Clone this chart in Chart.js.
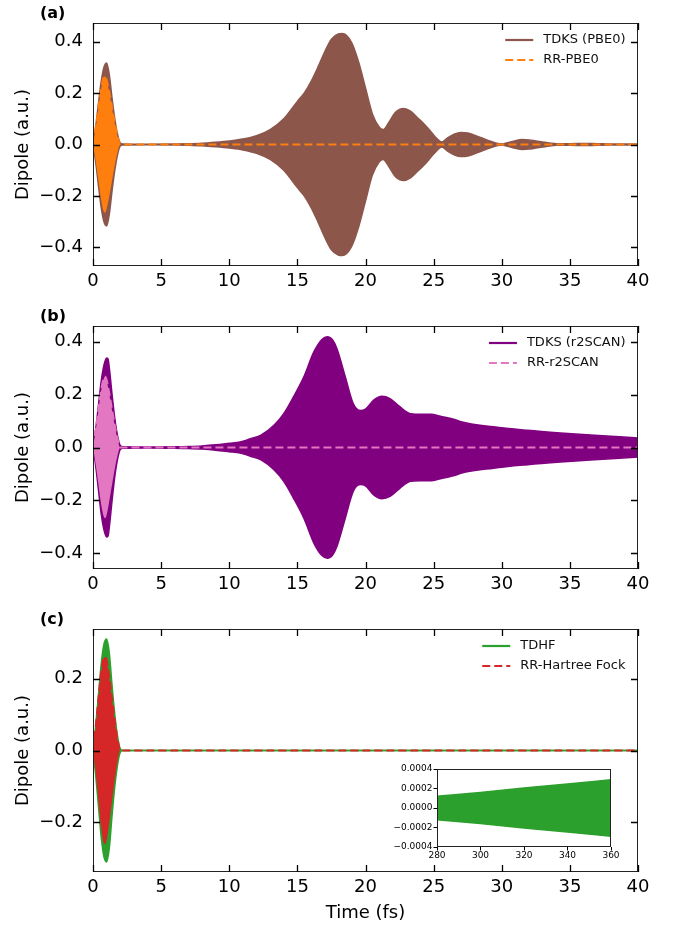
<!DOCTYPE html>
<html>
<head>
<meta charset="utf-8">
<script src="https://cdn.jsdelivr.net/npm/chart.js@4.4.0/dist/chart.umd.min.js"></script>
<style>
  html, body { margin: 0; padding: 0; background: #fff; }
  #wrap { position: relative; width: 676px; height: 926px; }
  canvas { position: absolute; left: 0; }
</style>
</head>
<body>
<div id="wrap">
  <canvas id="panelA" width="676" height="300" style="top:0"></canvas>
  <canvas id="panelB" width="676" height="300" style="top:300px"></canvas>
  <canvas id="panelC" width="676" height="326" style="top:600px"></canvas>
  <canvas id="inset" width="240" height="105" style="left:390px; top:760px"></canvas>
</div>
<script>
// tick values
const timeTicks = [0, 5, 10, 15, 20, 25, 30, 35, 40];
const dipoleTicksAB = [-0.4, -0.2, 0, 0.2, 0.4];
const dipoleTicksC = [-0.2, 0, 0.2];
const insetTimeTicks = [280, 300, 320, 340, 360];
const insetDipoleTicks = [-0.0004, -0.0002, 0, 0.0002, 0.0004];

// envelope (amplitude) of the fast dipole oscillation
// (a) TDKS (PBE0)
const pbe0Time = [0, 0.2, 0.4, 0.6, 0.8, 1.0, 1.2, 1.4, 1.6, 1.8, 2.0, 2.2, 4, 6, 7, 8, 9, 10, 11, 12, 13, 14, 15, 15.5, 16, 16.5, 17, 17.5, 18, 18.3, 18.6, 19, 19.5, 20, 20.5, 21, 21.3, 21.7, 22.2, 22.8, 23.3, 23.8, 24.3, 24.8, 25.3, 25.6, 26, 26.5, 27, 27.5, 28, 28.5, 29, 29.5, 30, 30.5, 31, 31.5, 32, 32.5, 33, 33.5, 34, 35, 36, 37, 38, 39, 40];
const pbe0Amp = [0, 0.07, 0.16, 0.245, 0.3, 0.317, 0.27, 0.18, 0.1, 0.04, 0.006, 0.002, 0.001, 0.002, 0.003, 0.005, 0.009, 0.014, 0.021, 0.034, 0.058, 0.1, 0.168, 0.2, 0.245, 0.3, 0.36, 0.41, 0.43, 0.432, 0.425, 0.395, 0.32, 0.22, 0.12, 0.068, 0.058, 0.085, 0.125, 0.14, 0.13, 0.105, 0.08, 0.05, 0.02, 0.01, 0.025, 0.04, 0.047, 0.045, 0.036, 0.026, 0.016, 0.007, 0.002, 0.008, 0.015, 0.019, 0.018, 0.014, 0.01, 0.006, 0.003, 0.003, 0.004, 0.003, 0.002, 0.002, 0.002];
// (a) RR-PBE0
const rrPbe0Time = [0, 0.2, 0.4, 0.6, 0.8, 0.9, 1.0, 1.2, 1.4, 1.6, 1.8, 2.0, 40];
const rrPbe0Amp = [0, 0.065, 0.14, 0.215, 0.262, 0.265, 0.25, 0.2, 0.14, 0.08, 0.03, 0, 0];

// (b) TDKS (r2SCAN)
const r2scanTime = [0, 0.2, 0.4, 0.6, 0.8, 1.0, 1.1, 1.2, 1.4, 1.6, 1.8, 2.0, 2.2, 4, 6, 7, 8, 9, 10, 10.8, 11.5, 12.3, 13.3, 14, 14.7, 15.5, 16.2, 16.8, 17.2, 17.6, 17.9, 18.5, 19.1, 19.6, 20, 20.6, 21.2, 21.8, 22.5, 23.3, 24, 24.8, 25.5, 26.7, 27, 29.4, 31.9, 34.3, 36.8, 40];
const r2scanAmp = [0, 0.07, 0.16, 0.25, 0.31, 0.338, 0.335, 0.3, 0.2, 0.11, 0.045, 0.008, 0.003, 0.002, 0.003, 0.004, 0.006, 0.01, 0.016, 0.021, 0.032, 0.046, 0.085, 0.128, 0.19, 0.27, 0.36, 0.408, 0.418, 0.405, 0.374, 0.27, 0.166, 0.14, 0.145, 0.179, 0.194, 0.185, 0.155, 0.128, 0.126, 0.126, 0.118, 0.103, 0.097, 0.078, 0.065, 0.055, 0.046, 0.036];
// (b) RR-r2SCAN
const rrR2scanTime = [0, 0.2, 0.4, 0.6, 0.8, 0.9, 1.0, 1.2, 1.4, 1.6, 1.8, 2.0, 40];
const rrR2scanAmp = [0, 0.065, 0.14, 0.215, 0.262, 0.267, 0.255, 0.2, 0.14, 0.08, 0.03, 0, 0];

// (c) TDHF
const tdhfTime = [0, 0.2, 0.4, 0.6, 0.8, 1.0, 1.2, 1.4, 1.6, 1.8, 2.0, 2.2, 40];
const tdhfAmp = [0, 0.07, 0.155, 0.24, 0.295, 0.31, 0.27, 0.18, 0.1, 0.04, 0.005, 0, 0];
// (c) RR-Hartree Fock
const rrHfTime = [0, 0.2, 0.4, 0.6, 0.8, 0.9, 1.0, 1.2, 1.4, 1.6, 1.8, 2.0, 40];
const rrHfAmp = [0, 0.065, 0.14, 0.215, 0.258, 0.26, 0.25, 0.2, 0.14, 0.08, 0.03, 0, 0];
// (c) inset: TDHF at long times
const insetTime = [280, 300, 320, 340, 360];
const insetAmp = [0.00012, 0.00016, 0.000205, 0.000245, 0.00029];

Chart.defaults.font.family = '"DejaVu Sans", sans-serif';
Chart.defaults.color = '#000';

const DASH = [8, 4];

// two datasets: upper edge filled down to the lower edge
function band(time, amp, color, dashed) {
  const upper = time.map((t, i) => ({ x: t, y: amp[i] }));
  const lower = time.map((t, i) => ({ x: t, y: -amp[i] }));
  const common = {
    borderColor: color, backgroundColor: color, pointRadius: 0,
    cubicInterpolationMode: 'monotone'
  };
  return [
    { ...common, data: upper, fill: '+1', borderWidth: dashed ? 2.2 : 1.5, borderDash: dashed ? DASH : [] },
    { ...common, data: lower, fill: false, borderWidth: dashed ? 0 : 1.5 }
  ];
}

// box, inward ticks on all four sides, panel letter and legend
function framePlugin(cfg) {
  return {
    id: 'frame',
    afterDraw(chart) {
      const { ctx, chartArea: a, scales: { x, y } } = chart;
      ctx.save();
      ctx.setLineDash([]);
      ctx.strokeStyle = '#222';
      ctx.lineWidth = 1;
      ctx.strokeRect(a.left + 0.5, a.top + 0.5, a.width - 1, a.height - 1);
      if (cfg.xt) {
        const L = 7;
        ctx.strokeStyle = '#000';
        ctx.lineWidth = 1.3;
        ctx.beginPath();
        cfg.xt.forEach(v => {
          const px = Math.round(x.getPixelForValue(v)) + 0.5;
          ctx.moveTo(px, a.bottom); ctx.lineTo(px, a.bottom - L);
          ctx.moveTo(px, a.top); ctx.lineTo(px, a.top + L);
        });
        cfg.yt.forEach(v => {
          const py = Math.round(y.getPixelForValue(v)) + 0.5;
          ctx.moveTo(a.left, py); ctx.lineTo(a.left + L, py);
          ctx.moveTo(a.right, py); ctx.lineTo(a.right - L, py);
        });
        ctx.stroke();
      }
      if (cfg.label) {
        ctx.fillStyle = '#000';
        ctx.font = 'bold 16px "DejaVu Sans"';
        ctx.textAlign = 'left';
        ctx.textBaseline = 'middle';
        ctx.fillText(cfg.label, 40, a.top - 9);
      }
      if (cfg.legend) {
        ctx.font = '13px "DejaVu Sans"';
        const w = Math.max(...cfg.legend.map(e => ctx.measureText(e.text).width));
        const textX = a.right - 12.5 - w;
        const x1 = textX - 10, x0 = x1 - 28;
        cfg.legend.forEach((e, i) => {
          const yy = a.top + 17 + 20 * i;
          ctx.beginPath();
          ctx.strokeStyle = e.color;
          ctx.lineWidth = 2.2;
          ctx.setLineDash(e.dashed ? DASH : []);
          ctx.moveTo(x0, yy); ctx.lineTo(x1, yy);
          ctx.stroke();
          ctx.setLineDash([]);
          ctx.fillStyle = '#111';
          ctx.textAlign = 'left';
          ctx.textBaseline = 'middle';
          ctx.fillText(e.text, textX, yy);
        });
      }
      ctx.restore();
    }
  };
}

const fmt1 = v => v.toFixed(1).replace('-', '\u2212');

function makePanel(id, p) {
  new Chart(document.getElementById(id), {
    type: 'line',
    data: { datasets: [...band(p.rrTime, p.rrAmp, p.rrColor, true), ...band(p.time, p.amp, p.color, false)] },
    options: {
      responsive: false,
      animation: false,
      events: [],
      layout: { padding: { top: p.padTop, right: 38, left: 0, bottom: 0 } },
      scales: {
        x: {
          type: 'linear', min: 0, max: 40,
          afterBuildTicks: s => { s.ticks = timeTicks.map(v => ({ value: v })); },
          afterFit: s => { s.height = p.xHeight; },
          grid: { display: false, drawTicks: false },
          border: { display: false },
          ticks: { autoSkip: false, maxRotation: 0, padding: 5, font: { size: 18 }, callback: v => String(v) },
          title: { display: !!p.xTitle, text: p.xTitle || '', font: { size: 18 }, padding: { top: 0, bottom: 2 } }
        },
        y: {
          type: 'linear', min: -p.yLim, max: p.yLim,
          afterBuildTicks: s => { s.ticks = p.yTicks.map(v => ({ value: v })); },
          afterFit: s => { s.width = 93; },
          grid: { display: false, drawTicks: false },
          border: { display: false },
          ticks: { autoSkip: false, padding: 10, font: { size: 18 }, callback: fmt1 },
          title: { display: true, text: 'Dipole (a.u.)', font: { size: 18 }, padding: { top: 13, bottom: 0 } }
        }
      },
      plugins: { legend: { display: false }, tooltip: { enabled: false } }
    },
    plugins: [framePlugin({ xt: timeTicks, yt: p.yTicks, label: p.label, legend: p.legend })]
  });
}

makePanel('panelA', {
  label: '(a)', padTop: 23, xHeight: 34, yLim: 0.473, yTicks: dipoleTicksAB,
  time: pbe0Time, amp: pbe0Amp, color: '#8c564b',
  rrTime: rrPbe0Time, rrAmp: rrPbe0Amp, rrColor: '#ff7f0e',
  legend: [{ text: 'TDKS (PBE0)', color: '#8c564b' }, { text: 'RR-PBE0', color: '#ff7f0e', dashed: true }]
});

makePanel('panelB', {
  label: '(b)', padTop: 26, xHeight: 31, yLim: 0.459, yTicks: dipoleTicksAB,
  time: r2scanTime, amp: r2scanAmp, color: '#800080',
  rrTime: rrR2scanTime, rrAmp: rrR2scanAmp, rrColor: '#e377c2',
  legend: [{ text: 'TDKS (r2SCAN)', color: '#800080' }, { text: 'RR-r2SCAN', color: '#e377c2', dashed: true }]
});

makePanel('panelC', {
  label: '(c)', padTop: 29, xHeight: 54, yLim: 0.338, yTicks: dipoleTicksC, xTitle: 'Time (fs)',
  time: tdhfTime, amp: tdhfAmp, color: '#2ca02c',
  rrTime: rrHfTime, rrAmp: rrHfAmp, rrColor: '#d62728',
  legend: [{ text: 'TDHF', color: '#2ca02c' }, { text: 'RR-Hartree Fock', color: '#d62728', dashed: true }]
});

// inset of panel (c)
new Chart(document.getElementById('inset'), {
  type: 'line',
  data: { datasets: band(insetTime, insetAmp, '#2ca02c', false) },
  options: {
    responsive: false,
    animation: false,
    events: [],
    layout: { padding: { top: 9, right: 19, left: 0, bottom: 0 } },
    scales: {
      x: {
        type: 'linear', min: 280, max: 360,
        afterBuildTicks: s => { s.ticks = insetTimeTicks.map(v => ({ value: v })); },
        afterFit: s => { s.height = 18; },
        grid: { display: true, drawOnChartArea: false, drawTicks: true, tickLength: 3.5, color: '#000' },
        border: { display: false },
        ticks: { autoSkip: false, maxRotation: 0, padding: 0, font: { size: 9 }, callback: v => String(v) }
      },
      y: {
        type: 'linear', min: -0.0004, max: 0.0004,
        afterBuildTicks: s => { s.ticks = insetDipoleTicks.map(v => ({ value: v })); },
        afterFit: s => { s.width = 47; },
        grid: { display: true, drawOnChartArea: false, drawTicks: true, tickLength: 3.5, color: '#000' },
        border: { display: false },
        ticks: { autoSkip: false, padding: 1, font: { size: 9 }, callback: v => v.toFixed(4).replace('-', '\u2212') }
      }
    },
    plugins: { legend: { display: false }, tooltip: { enabled: false } }
  },
  plugins: [framePlugin({})]
});
</script>
</body>
</html>
